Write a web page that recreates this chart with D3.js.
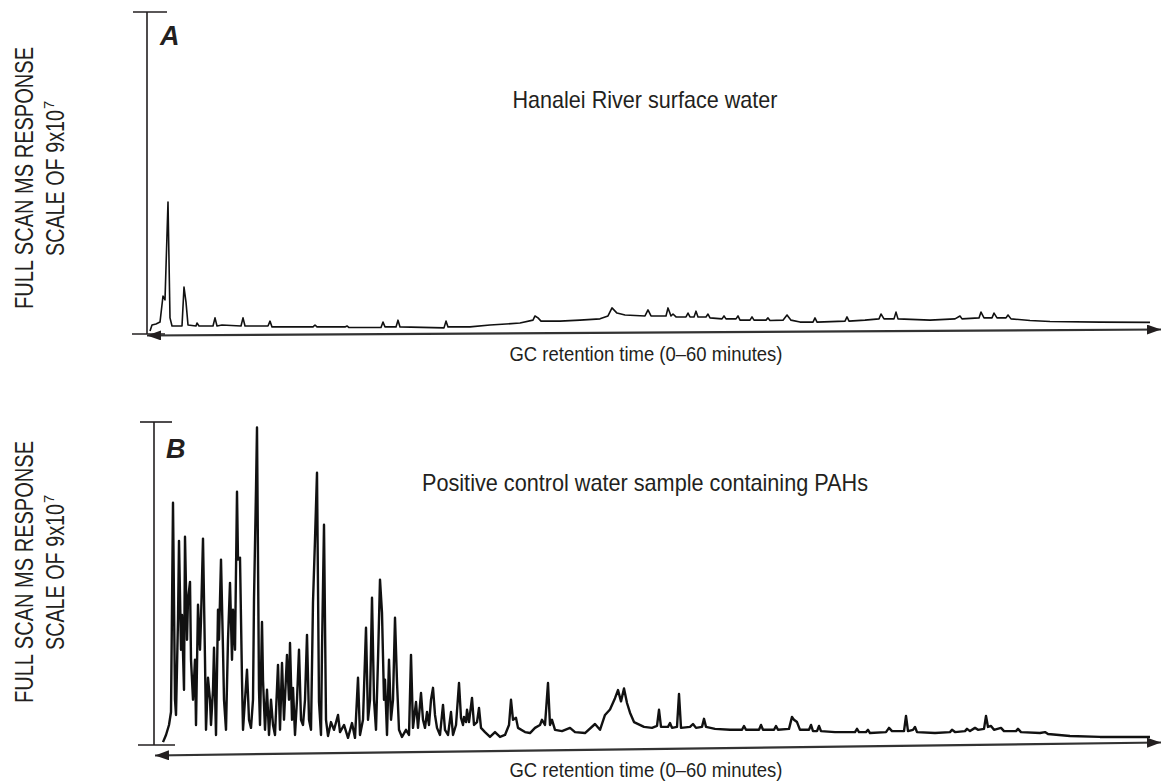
<!DOCTYPE html>
<html>
<head>
<meta charset="utf-8">
<style>
  body { margin: 0; background: #fff; }
  text { font-family: "Liberation Sans Narrow", "Liberation Sans", Arial, sans-serif; fill: #231f20; }
</style>
<title>GC-MS chromatograms</title>
</head>
<body>
<script src="https://cdn.jsdelivr.net/npm/d3@7/dist/d3.min.js"></script>
<script>

// x = scan number (1000 scans over the 0-60 minute run)
// y = response in percent of full scale (9x10^7)
var traceA = [[0,0.9],[2,2.8],[6,3.1],[10,3.7],[13,11.8],[15,10.6],[18,41.0],[20,5.0],[22,2.5],[32,2.5],[34,14.6],[36,9.9],[38,2.8],
  [46,2.5],[47,3.4],[49,2.5],[63,2.5],[65,5.0],[67,2.5],[72,2.8],[91,2.5],[93,5.0],[95,2.5],[118,2.5],[120,4.0],[122,2.2],
  [163,2.2],[165,2.8],[167,2.2],[195,2.2],[197,2.5],[199,2.0],[231,2.0],[233,3.7],[235,2.2],[246,2.2],[248,4.3],[250,2.2],
  [294,1.9],[296,4.0],[298,2.2],[320,2.2],[340,2.8],[370,3.4],[383,4.3],[385,5.6],[388,5.0],[391,4.0],[410,4.0],[430,4.3],
  [450,4.7],[458,5.6],[462,8.1],[467,6.5],[475,5.9],[495,5.6],[498,7.5],[501,5.6],[516,5.6],[518,8.1],[521,5.6],[523,6.2],
  [526,5.3],[536,5.3],[538,6.5],[540,5.3],[544,5.3],[546,7.1],[548,5.3],[556,5.3],[558,6.2],[560,5.0],[572,4.7],[574,5.6],
  [576,4.7],[586,4.7],[588,5.6],[590,4.3],[600,4.3],[602,5.3],[604,4.3],[616,4.3],[618,5.0],[620,4.2],[633,4.3],[637,5.9],
  [641,4.3],[650,3.7],[663,3.7],[665,5.0],[667,3.7],[695,4.0],[697,5.3],[699,4.0],[715,4.3],[729,4.7],[731,6.2],[734,4.7],
  [744,4.7],[746,6.8],[748,4.7],[780,4.3],[805,4.7],[810,5.6],[812,4.7],[829,5.0],[831,6.8],[834,5.0],[842,5.0],[844,6.5],
  [847,5.0],[856,5.0],[858,5.9],[861,4.7],[880,4.2],[900,3.9],[950,3.7],[1000,3.6]];

var traceB = [[13,0.9],[16,3.1],[19,6.2],[21,10.2],[23,75.0],[25,14.0],[26,9.3],[28,38.8],[29,63.2],[31,29.5],[32,40.3],
  [34,17.1],[35,64.5],[37,32.6],[38,45.0],[40,50.5],[41,26.4],[43,14.0],[45,26.4],[46,6.2],[48,43.4],[50,29.5],[51,38.8],
  [53,63.9],[55,26.4],[56,4.7],[58,20.8],[60,14.0],[61,6.2],[63,17.1],[64,30.1],[66,3.1],[68,41.9],[69,32.6],[71,57.4],
  [73,29.5],[74,14.0],[76,4.7],[78,32.6],[80,50.2],[82,26.4],[83,41.9],[85,29.5],[87,78.4],[88,57.4],[90,58.0],[92,20.2],
  [93,4.7],[95,14.0],[97,23.3],[99,7.8],[101,5.3],[103,14.0],[104,45.0],[106,79.1],[107,98.3],[109,17.1],[110,6.2],
  [112,38.1],[113,20.2],[115,4.7],[117,17.1],[119,3.1],[121,14.0],[123,6.2],[125,3.1],[128,24.8],[130,4.7],[132,25.4],
  [134,7.8],[137,27.9],[139,14.0],[140,31.6],[142,7.8],[143,17.7],[145,3.1],[147,14.0],[149,29.5],[151,7.8],[153,6.2],
  [155,14.0],[157,34.1],[159,7.8],[161,4.7],[163,44.3],[165,63.6],[167,84.3],[169,13.3],[171,3.1],[172,29.5],[174,68.2],
  [176,7.8],[178,2.8],[181,7.1],[184,4.7],[188,9.3],[190,4.0],[194,6.2],[198,2.2],[202,6.8],[205,2.2],[208,20.8],[210,3.1],
  [213,7.8],[216,36.3],[218,7.8],[220,14.0],[222,45.6],[224,14.0],[226,4.7],[228,26.4],[230,51.2],[232,40.9],[234,14.0],
  [235,20.2],[237,3.1],[239,26.4],[241,7.8],[243,14.0],[245,39.4],[247,19.5],[249,4.7],[252,2.5],[256,4.7],[259,3.1],
  [261,27.9],[263,5.3],[266,13.3],[268,5.3],[271,16.1],[273,7.8],[275,5.3],[277,10.2],[279,6.2],[281,14.0],[283,17.7],
  [285,9.3],[287,5.3],[290,3.1],[293,12.4],[295,4.7],[298,3.1],[301,10.2],[303,3.1],[306,6.2],[309,19.2],[311,8.4],
  [313,6.2],[314,8.7],[316,7.1],[317,10.9],[319,7.1],[322,14.6],[324,6.2],[327,7.1],[329,11.5],[331,5.3],[335,4.0],
  [340,2.5],[345,4.0],[350,2.5],[355,3.1],[359,6.2],[361,14.0],[363,7.8],[366,8.4],[368,5.3],[375,4.0],[380,3.7],
  [385,5.3],[390,6.2],[392,7.8],[395,6.2],[398,19.2],[400,6.2],[402,7.8],[405,4.7],[412,4.3],[420,5.3],[425,4.0],
  [435,3.7],[445,6.5],[450,4.7],[455,9.3],[460,11.0],[465,14.5],[468,17.0],[471,13.5],[474,17.5],[477,13.0],[480,10.0],
  [484,7.1],[494,5.6],[502,5.3],[507,5.9],[509,10.9],[511,5.6],[518,5.6],[520,6.8],[522,5.3],[527,5.6],[529,15.8],[531,5.3],
  [540,5.6],[543,6.5],[546,5.3],[552,5.6],[554,8.1],[556,5.6],[565,5.0],[580,4.7],[592,4.7],[594,5.9],[596,4.7],
  [609,4.7],[611,6.2],[613,4.7],[624,4.7],[626,5.9],[628,4.7],[639,5.0],[642,8.7],[644,7.8],[647,7.1],[650,4.7],
  [659,4.7],[661,6.2],[663,4.3],[667,4.3],[669,5.9],[671,4.3],[685,4.0],[705,4.0],[707,5.0],[709,4.0],[716,4.0],
  [718,4.7],[720,3.7],[736,4.0],[739,5.3],[742,4.3],[754,4.3],[756,9.0],[758,4.3],[763,4.7],[765,5.6],[767,4.0],
  [785,3.7],[800,4.0],[802,4.7],[805,4.0],[815,4.3],[817,5.0],[820,4.3],[825,5.3],[828,4.7],[834,5.0],[836,9.0],
  [838,5.6],[841,5.9],[844,4.7],[851,5.3],[854,4.3],[866,4.3],[868,5.0],[871,4.0],[890,3.7],[895,4.0],[898,3.4],
  [920,2.8],[950,2.5],[975,2.5],[1000,2.5]];

var letters = ["A", "B"];
var titles = ["Hanalei River surface water", "Positive control water sample containing PAHs"];
var yLabel = ["FULL SCAN MS RESPONSE", "SCALE OF 9x10", "7"];
var xLabel = "GC retention time (0\u201360 minutes)";

var panels = [
  {data: traceA, top: 12, bottom: 334, axisX: 147, tickL: 14, tickR: 20, botL: 15, botR: 18,
   arrowL: 1.5, arrowR: -4.5, arrowX0: 147, stroke: 1.6, titleW: 265, titleY: 108, letterX: 160, letterY: 45,
   labelY: 178, xLabelY: 361},
  {data: traceB, top: 422, bottom: 745, axisX: 154, tickL: 14, tickR: 18, botL: 16, botR: 21,
   arrowL: 10.5, arrowR: -2.5, arrowX0: 155, stroke: 2.4, titleW: 446, titleY: 491, letterX: 166, letterY: 458,
   labelY: 572, xLabelY: 777}
];

var svg = d3.select("body").append("svg")
  .attr("width", 1166)
  .attr("height", 782);

svg.append("defs").append("marker")
  .attr("id", "arrow")
  .attr("viewBox", "0 0 14 10")
  .attr("refX", 14).attr("refY", 5)
  .attr("markerWidth", 14).attr("markerHeight", 10)
  .attr("markerUnits", "userSpaceOnUse")
  .attr("orient", "auto-start-reverse")
  .append("path").attr("d", "M0,0L14,5L0,10Z").attr("fill", "#231f20");

var x = d3.scaleLinear().domain([0, 1000]).range([150, 1150]);

panels.forEach(function(p, i) {
  var y = d3.scaleLinear().domain([0, 100]).range([p.bottom, p.top]);
  var g = svg.append("g");

  // y axis with full scale tick
  g.append("line").attr("x1", p.axisX).attr("x2", p.axisX)
    .attr("y1", y(0)).attr("y2", y(100))
    .attr("stroke", "#231f20").attr("stroke-width", 1.6);
  g.append("line").attr("x1", p.axisX - p.tickL).attr("x2", p.axisX + p.tickR)
    .attr("y1", y(100)).attr("y2", y(100))
    .attr("stroke", "#231f20").attr("stroke-width", 1.6);
  g.append("line").attr("x1", p.axisX - p.botL).attr("x2", p.axisX + p.botR)
    .attr("y1", y(0)).attr("y2", y(0))
    .attr("stroke", "#231f20").attr("stroke-width", 1.6);

  // double headed time arrow
  g.append("line")
    .attr("x1", p.arrowX0).attr("y1", y(0) + p.arrowL)
    .attr("x2", x(1000) + 11).attr("y2", y(0) + p.arrowR)
    .attr("stroke", "#333").attr("stroke-width", 2.2)
    .attr("marker-start", "url(#arrow)").attr("marker-end", "url(#arrow)");

  var line = d3.line()
    .x(function(d) { return x(d[0]); })
    .y(function(d) { return y(d[1]); });

  g.append("path").datum(p.data)
    .attr("d", line)
    .attr("fill", "none")
    .attr("stroke", "#111")
    .attr("stroke-width", p.stroke)
    .attr("stroke-linejoin", "round");

  g.append("text")
    .attr("x", p.letterX).attr("y", p.letterY)
    .attr("font-size", 27).attr("font-weight", "bold").attr("font-style", "italic")
    .text(letters[i]);

  g.append("text")
    .attr("x", 645).attr("y", p.titleY)
    .attr("text-anchor", "middle")
    .attr("font-size", 24)
    .attr("textLength", p.titleW).attr("lengthAdjust", "spacingAndGlyphs")
    .text(titles[i]);

  g.append("text")
    .attr("x", 646).attr("y", p.xLabelY)
    .attr("text-anchor", "middle")
    .attr("font-size", 21)
    .attr("textLength", 273).attr("lengthAdjust", "spacingAndGlyphs")
    .text(xLabel);

  var yl = g.append("g").attr("transform", "translate(33," + p.labelY + ") rotate(-90)");
  yl.append("text")
    .attr("x", 0).attr("y", 0)
    .attr("text-anchor", "middle")
    .attr("font-size", 26)
    .attr("textLength", 262).attr("lengthAdjust", "spacingAndGlyphs")
    .text(yLabel[0]);
  yl.append("text")
    .attr("x", -78).attr("y", 31)
    .attr("font-size", 26)
    .attr("textLength", 146).attr("lengthAdjust", "spacingAndGlyphs")
    .text(yLabel[1]);
  yl.append("text")
    .attr("x", 69).attr("y", 21)
    .attr("font-size", 15)
    .text(yLabel[2]);
});

</script>
</body>
</html>
